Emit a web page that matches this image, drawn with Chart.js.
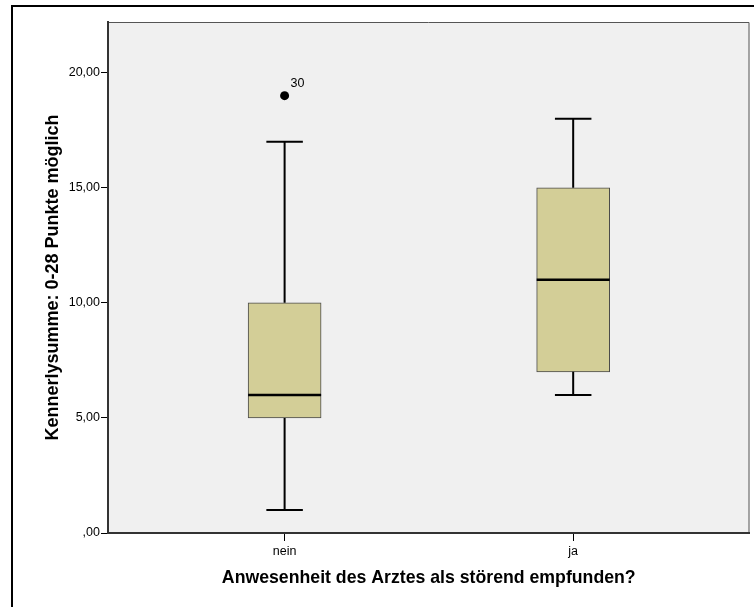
<!DOCTYPE html>
<html lang="de">
<head>
<meta charset="utf-8">
<title>Kennerlysumme Boxplot</title>
<script src="https://cdn.jsdelivr.net/npm/chart.js@4.4.1/dist/chart.umd.min.js"></script>
<style>
  html, body { margin: 0; padding: 0; background: #fff; overflow: hidden; }
  #chartBox { width: 754px; height: 607px; }
</style>
</head>
<body>
<div id="chartBox"><canvas id="boxChart" width="754" height="607"></canvas></div>
<script>
const categories = ['nein', 'ja'];
const whiskerLow = [1, 6];
const quartile1 = [5, 7];
const medians = [6, 11];
const quartile3 = [10, 15];
const whiskerHigh = [17, 18];

// Ausreißer: Kategorie-Index, Wert, Fallnummer
const outlierCategory = [0];
const outlierValues = [19];
const outlierLabels = ['30'];

const yTicks = [0, 5, 10, 15, 20];
const yTickLabels = [',00', '5,00', '10,00', '15,00', '20,00'];

const FONT = '"Liberation Sans", Arial, sans-serif';

// Hintergrund, äußerer Rahmen und grauer Plotbereich
const framePlugin = {
    id: 'framePlugin',
    beforeDraw(chart) {
        const { ctx, chartArea: a } = chart;
        ctx.save();
        ctx.fillStyle = '#fff';
        ctx.fillRect(0, 0, chart.width, chart.height);

        // äußerer Rahmen (rechts und unten ausserhalb des Bildes)
        ctx.strokeStyle = '#000';
        ctx.lineWidth = 2;
        ctx.beginPath();
        ctx.moveTo(12, chart.height);
        ctx.lineTo(12, 6);
        ctx.lineTo(chart.width, 6);
        ctx.stroke();

        ctx.fillStyle = '#f0f0f0';
        ctx.fillRect(a.left, a.top, a.right - a.left, a.bottom - a.top);

        // obere und rechte Kante dünn
        ctx.strokeStyle = '#555';
        ctx.lineWidth = 1;
        ctx.beginPath();
        ctx.moveTo(a.left, a.top + 0.5);
        ctx.lineTo(a.right - 0.5, a.top + 0.5);
        ctx.lineTo(a.right - 0.5, a.bottom);
        ctx.stroke();
        ctx.restore();
    }
};

// Whisker, Median und Fallnummer des Ausreißers
const boxplotLines = {
    id: 'boxplotLines',
    afterDatasetsDraw(chart) {
        const ctx = chart.ctx;
        const x = chart.scales.x;
        const y = chart.scales.y;
        const boxes = chart.getDatasetMeta(0).data;

        ctx.save();
        ctx.strokeStyle = '#000';
        categories.forEach((cat, i) => {
            const cx = x.getPixelForValue(i + 1);
            const half = boxes[i].width / 2;
            const cap = half / 2;
            const yHi = y.getPixelForValue(whiskerHigh[i]);
            const yLo = y.getPixelForValue(whiskerLow[i]);

            ctx.lineWidth = 2;
            ctx.beginPath();
            ctx.moveTo(cx, y.getPixelForValue(quartile3[i]));
            ctx.lineTo(cx, yHi);
            ctx.moveTo(cx - cap, yHi);
            ctx.lineTo(cx + cap, yHi);
            ctx.moveTo(cx, y.getPixelForValue(quartile1[i]));
            ctx.lineTo(cx, yLo);
            ctx.moveTo(cx - cap, yLo);
            ctx.lineTo(cx + cap, yLo);
            ctx.stroke();

            // Median
            const yMed = y.getPixelForValue(medians[i]);
            ctx.lineWidth = 2.5;
            ctx.beginPath();
            ctx.moveTo(cx - half, yMed);
            ctx.lineTo(cx + half, yMed);
            ctx.stroke();
        });

        // Beschriftung der Ausreißer
        const points = chart.getDatasetMeta(1).data;
        ctx.fillStyle = '#000';
        ctx.font = '12.5px ' + FONT;
        ctx.textAlign = 'left';
        ctx.textBaseline = 'middle';
        points.forEach((p, k) => {
            ctx.fillText(outlierLabels[k], p.x + 6, p.y - 12);
        });
        ctx.restore();
    }
};

new Chart(document.getElementById('boxChart'), {
    type: 'bar',
    data: {
        datasets: [{
            type: 'bar',
            data: categories.map((c, i) => ({ x: i + 1, y: [quartile1[i], quartile3[i]] })),
            backgroundColor: '#d3ce97',
            borderColor: '#4a4a4a',
            borderWidth: 1,
            borderSkipped: false,
            barThickness: 73
        }, {
            type: 'scatter',
            data: outlierValues.map((v, k) => ({ x: outlierCategory[k] + 1, y: v })),
            pointRadius: 4.5,
            pointBackgroundColor: '#000',
            pointBorderColor: '#000',
            pointBorderWidth: 0
        }]
    },
    options: {
        responsive: false,
        animation: false,
        devicePixelRatio: 1,
        layout: { padding: { top: 22, right: 1, left: 0, bottom: 0 } },
        plugins: {
            legend: { display: false },
            tooltip: { enabled: false }
        },
        scales: {
            x: {
                type: 'linear',
                min: 0.388,
                max: 2.611,
                offset: false,
                afterBuildTicks: scale => {
                    scale.ticks = categories.map((c, i) => ({ value: i + 1 }));
                },
                afterFit: scale => { scale.height = 74; },
                grid: {
                    offset: false,
                    drawOnChartArea: false,
                    tickLength: 8,
                    tickColor: '#000',
                    tickWidth: 1
                },
                border: { color: '#333', width: 2 },
                ticks: {
                    padding: 3,
                    color: '#000',
                    font: { family: FONT, size: 12.5 },
                    maxRotation: 0,
                    callback: value => categories[value - 1]
                },
                title: {
                    display: true,
                    text: 'Anwesenheit des Arztes als störend empfunden?',
                    color: '#000',
                    font: { family: FONT, size: 17.7, weight: 'bold' },
                    padding: { top: 0, bottom: 18.5 }
                }
            },
            y: {
                min: 0,
                max: 22.2,
                afterBuildTicks: scale => {
                    scale.ticks = yTicks.map(v => ({ value: v }));
                },
                afterFit: scale => { scale.width = 108; },
                grid: {
                    drawOnChartArea: false,
                    tickLength: 7,
                    tickColor: '#000',
                    tickWidth: 1
                },
                border: { color: '#333', width: 2 },
                ticks: {
                    padding: 1,
                    color: '#000',
                    font: { family: FONT, size: 12.5 },
                    callback: (value, index) => yTickLabels[index]
                },
                title: {
                    display: true,
                    text: 'Kennerlysumme: 0-28 Punkte möglich',
                    color: '#000',
                    font: { family: FONT, size: 18, weight: 'bold' },
                    padding: { top: 42, bottom: 0 }
                }
            }
        }
    },
    plugins: [framePlugin, boxplotLines]
});
</script>
</body>
</html>
